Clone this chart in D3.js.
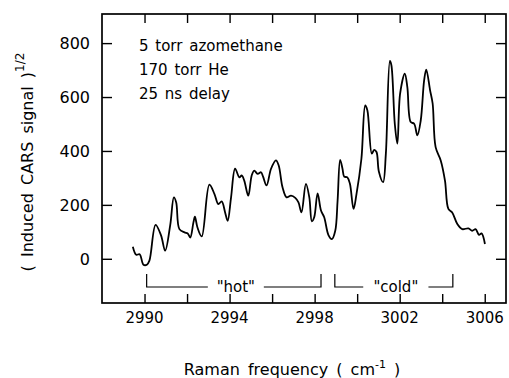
<!DOCTYPE html>
<html>
<head>
<meta charset="utf-8">
<script src="https://cdn.jsdelivr.net/npm/d3@7"></script>
<style>
  body { margin: 0; background: #fff; }
  svg text { font-family: "DejaVu Sans", sans-serif; fill: #000; }
</style>
</head>
<body>
<div id="chart"></div>
<script>
// values
var freq = [2989.45, 2989.61, 2989.77, 2989.95, 2990.11, 2990.23, 2990.52, 2990.78, 2990.97, 2991.21,
    2991.38, 2991.49, 2991.64, 2991.88, 2992.03, 2992.15, 2992.30, 2992.37, 2992.49, 2992.69,
    2993.05, 2993.29, 2993.47, 2993.63, 2993.79, 2993.91, 2994.07, 2994.26, 2994.46, 2994.57,
    2994.69, 2994.88, 2995.04, 2995.16, 2995.32, 2995.48, 2995.57, 2995.74, 2995.95, 2996.18,
    2996.31, 2996.49, 2996.68, 2996.89, 2997.09, 2997.24, 2997.38, 2997.59, 2997.75, 2997.87,
    2997.98, 2998.14, 2998.30, 2998.45, 2998.65, 2998.81, 2998.97, 2999.08, 2999.20, 2999.31,
    2999.39, 2999.54, 2999.66, 2999.83, 2999.97, 3000.20, 3000.38, 3000.48, 3000.69, 3000.80,
    3000.91, 3001.02, 3001.22, 3001.35, 3001.54, 3001.61, 3001.77, 3001.89, 3002.02, 3002.24,
    3002.36, 3002.52, 3002.68, 3002.83, 3002.99, 3003.15, 3003.25, 3003.43, 3003.55, 3003.69,
    3003.93, 3004.13, 3004.29, 3004.47, 3004.71, 3004.94, 3005.23, 3005.41, 3005.57, 3005.73,
    3005.85, 3006.01];
var signal = [45, 15, 17, -22, -22, -7, 126, 86, 30, 126,
    228, 209, 110, 98, 94, 79, 135, 156, 116, 83,
    275, 240, 203, 213, 172, 141, 228, 334, 302, 309,
    290, 234, 309, 327, 315, 321, 306, 272, 334, 365,
    346, 265, 228, 234, 226, 209, 172, 278, 228, 139,
    154, 243, 179, 154, 88, 73, 104, 216, 367, 334,
    305, 302, 278, 185, 241, 371, 569, 551, 390, 404,
    396, 324, 284, 390, 734, 718, 501, 427, 613, 687,
    637, 507, 501, 458, 513, 662, 702, 625, 576, 414,
    365, 290, 185, 172, 129, 110, 113, 104, 110, 89,
    94, 55];

var xTicks = [2990, 2992, 2994, 2996, 2998, 3000, 3002, 3004, 3006];
var xTickLabels = [2990, 2994, 2998, 3002, 3006];
var yTicks = [0, 200, 400, 600, 800];
var notes = ["5 torr azomethane", "170 torr He", "25 ns delay"];
var regionNames = ["\"hot\"", "\"cold\""];
var regionStart = [2990.1, 2998.95];
var regionEnd = [2998.3, 3004.5];

var width = 509,
    height = 378;
var pLeft = 102, pRight = 506, pTop = 14, pBottom = 303;

var x = d3.scaleLinear().domain([2988, 3007]).range([pLeft, pRight]);
var y = d3.scaleLinear().domain([-164, 908]).range([pBottom, pTop]);

var svg = d3.select("#chart").append("svg")
    .attr("width", width)
    .attr("height", height);

// frame
svg.append("rect")
    .attr("x", pLeft)
    .attr("y", pTop)
    .attr("width", pRight - pLeft)
    .attr("height", pBottom - pTop)
    .attr("fill", "none")
    .attr("stroke", "#000")
    .attr("stroke-width", 1.7);

// inward ticks on all four sides
var tickLen = 9;
svg.append("g")
    .attr("transform", "translate(0," + pBottom + ")")
    .call(d3.axisBottom(x).tickValues(xTicks).tickSizeInner(-tickLen).tickSizeOuter(0).tickFormat(""))
    .call(function (g) { g.select(".domain").remove(); });
svg.append("g")
    .attr("transform", "translate(0," + pTop + ")")
    .call(d3.axisTop(x).tickValues(xTicks).tickSizeInner(-tickLen).tickSizeOuter(0).tickFormat(""))
    .call(function (g) { g.select(".domain").remove(); });
svg.append("g")
    .attr("transform", "translate(" + pLeft + ",0)")
    .call(d3.axisLeft(y).tickValues(yTicks).tickSizeInner(-tickLen - 1).tickSizeOuter(0).tickFormat(""))
    .call(function (g) { g.select(".domain").remove(); });
svg.append("g")
    .attr("transform", "translate(" + pRight + ",0)")
    .call(d3.axisRight(y).tickValues(yTicks).tickSizeInner(-tickLen - 1).tickSizeOuter(0).tickFormat(""))
    .call(function (g) { g.select(".domain").remove(); });
svg.selectAll(".tick line").attr("stroke", "#000").attr("stroke-width", 1.4);

// tick labels
svg.selectAll(".xlab")
    .data(xTickLabels)
    .enter()
    .append("text")
    .attr("x", function (d) { return x(d); })
    .attr("y", pBottom + 20)
    .attr("text-anchor", "middle")
    .style("font-size", "15px")
    .text(function (d) { return d; });
svg.selectAll(".ylab")
    .data(yTicks)
    .enter()
    .append("text")
    .attr("x", pLeft - 12)
    .attr("y", function (d) { return y(d); })
    .attr("dy", "0.36em")
    .attr("text-anchor", "end")
    .style("font-size", "16px")
    .text(function (d) { return d; });

// axis titles
var xt = svg.append("text")
    .attr("x", 292)
    .attr("y", 375)
    .attr("text-anchor", "middle")
    .style("font-size", "16px")
    .style("word-spacing", "3px");
xt.append("tspan").text("Raman frequency  ( cm");
xt.append("tspan").attr("dy", -7).style("font-size", "11px").text("-1");
xt.append("tspan").attr("dy", 7).text(" )");

var yt = svg.append("text")
    .attr("transform", "translate(33,162) rotate(-90)")
    .attr("text-anchor", "middle")
    .style("font-size", "16px")
    .style("word-spacing", "3px");
yt.append("tspan").text("( Induced CARS signal )");
yt.append("tspan").attr("dy", -9).style("font-size", "12px").text("1/2");

// notes
svg.selectAll(".note")
    .data(notes)
    .enter()
    .append("text")
    .attr("x", 139)
    .attr("y", function (d, i) { return 51 + i * 24; })
    .style("font-size", "15px")
    .style("word-spacing", "2px")
    .text(function (d) { return d; });

// hot / cold brackets
var brY = 287, brTop = 274;
regionNames.forEach(function (name, i) {
    var x0 = x(regionStart[i]), x1 = x(regionEnd[i]);
    var mid = (x0 + x1) / 2 + 2;
    var half = name.length * 4.6 + 5;
    var g = svg.append("g");
    g.append("path")
        .attr("d", "M" + x0 + "," + brTop + "V" + brY + "H" + (mid - half))
        .attr("fill", "none").attr("stroke", "#000").attr("stroke-width", 1.2);
    g.append("path")
        .attr("d", "M" + (mid + half) + "," + brY + "H" + x1 + "V" + brTop)
        .attr("fill", "none").attr("stroke", "#000").attr("stroke-width", 1.2);
    g.append("text")
        .attr("x", mid)
        .attr("y", brY + 5)
        .attr("text-anchor", "middle")
        .style("font-size", "15px")
        .text(name);
});

// spectrum
var pts = freq.map(function (f, i) { return [f, signal[i]]; });
var line = d3.line()
    .x(function (d) { return x(d[0]); })
    .y(function (d) { return y(d[1]); })
    .curve(d3.curveCatmullRom.alpha(0.5));
svg.append("path")
    .datum(pts)
    .attr("d", line)
    .attr("fill", "none")
    .attr("stroke", "#000")
    .attr("stroke-width", 1.8);
</script>
</body>
</html>
